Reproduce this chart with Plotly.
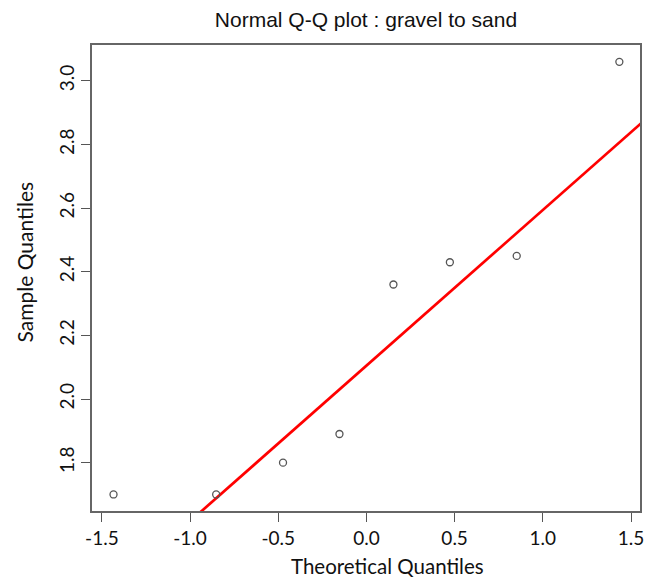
import numpy as np
import plotly.graph_objects as go

# theoretical normal quantiles (n = 8) and sorted sample values
theoretical = [-1.434, -0.852, -0.473, -0.153, 0.153, 0.473, 0.852, 1.434]
sample = [1.70, 1.70, 1.80, 1.89, 2.36, 2.43, 2.45, 3.06]

x_ticks = [-1.5, -1.0, -0.5, 0.0, 0.5, 1.0, 1.5]
y_ticks = [1.8, 2.0, 2.2, 2.4, 2.6, 2.8, 3.0]

# qqline: line through the first and third quartiles
q1, q3 = np.percentile(sample, [25, 75])
z1, z3 = -0.6745, 0.6745
slope = (q3 - q1) / (z3 - z1)
intercept = q1 - slope * z1
x_range = [-1.556, 1.551]
line_x = [-2.0, 2.0]
line_y = [intercept + slope * v for v in line_x]

# page body has an 8px margin, so the figure is 8px smaller on each side
W, H = 644, 571
L, R, T, B = 84, 8, 37, 68
plot_w, plot_h = W - L - R, H - T - B

fig = go.Figure()

fig.add_trace(go.Scatter(
    x=line_x,
    y=line_y,
    mode="lines",
    line=dict(color="#ff0000", width=2.7),
    hoverinfo="skip",
))

fig.add_trace(go.Scatter(
    x=theoretical,
    y=sample,
    mode="markers",
    marker=dict(symbol="circle-open", size=7, color="#555555", line=dict(width=1.3)),
))

label_family = "Lato, 'Open Sans', sans-serif"
tick_font = dict(family=label_family, size=19, color="#111111")

axis_style = dict(
    ticks="outside",
    ticklen=9,
    tickwidth=1.3,
    tickcolor="#555555",
    showline=True,
    linecolor="#666666",
    linewidth=1.5,
    mirror=True,
    showgrid=False,
    zeroline=False,
    tickfont=tick_font,
)

fig.update_xaxes(
    range=x_range,
    tickvals=x_ticks,
    ticktext=[f"{v:.1f}" for v in x_ticks],
    **axis_style,
)
fig.update_yaxes(
    range=[1.648, 3.113],
    tickvals=y_ticks,
    ticktext=[f"{v:.1f}" for v in y_ticks],
    tickangle=-90,
    **axis_style,
)

fig.update_layout(
    width=W,
    height=H,
    margin=dict(l=L, r=R, t=T, b=B),
    paper_bgcolor="white",
    plot_bgcolor="white",
    showlegend=False,
    title=dict(
        text="Normal Q-Q plot : gravel to sand",
        x=(366 - 8) / W,
        xanchor="center",
        y=1 - (20 - 8) / H,
        yanchor="middle",
        font=dict(family="'Liberation Sans', Arial, sans-serif", size=21, color="#111111"),
    ),
    annotations=[
        dict(
            text="Theoretical Quantiles",
            xref="paper", yref="paper",
            x=(390 - 92) / plot_w, y=-(566 - 511) / plot_h,
            xanchor="center", yanchor="middle",
            showarrow=False,
            font=dict(family=label_family, size=20.5, color="#111111"),
        ),
        dict(
            text="Sample Quantiles",
            xref="paper", yref="paper",
            x=-(92 - 23) / plot_w, y=(511 - 262) / plot_h,
            xanchor="center", yanchor="middle",
            textangle=-90,
            showarrow=False,
            font=dict(family=label_family, size=21, color="#111111"),
        ),
    ],
)

fig.write_html("out.html")
